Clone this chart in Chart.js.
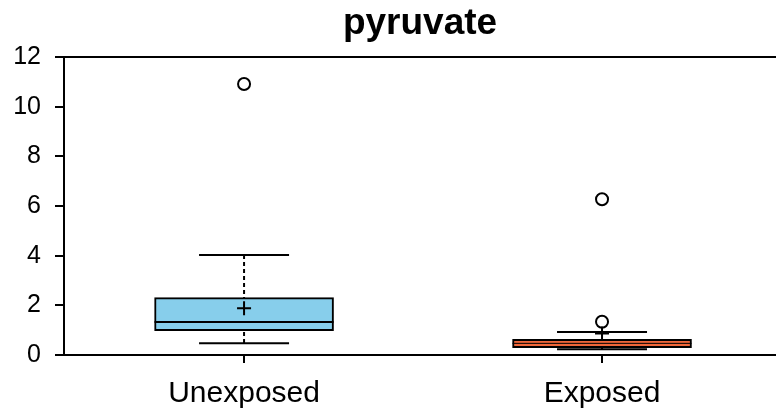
<!DOCTYPE html>
<html>
<head>
<meta charset="utf-8">
<script src="https://cdn.jsdelivr.net/npm/chart.js@4"></script>
<style>
  html, body { margin: 0; padding: 0; background: #fff; overflow: hidden; }
</style>
</head>
<body>
<canvas id="boxChart" width="776" height="419"></canvas>
<script>
// box plot values
const categories   = ['Unexposed', 'Exposed'];
const lowerWhisker = [0.47, 0.23];
const q1           = [0.98, 0.30];
const medians      = [1.33, 0.47];
const q3           = [2.31, 0.63];
const upperWhisker = [4.03, 0.93];
const means        = [1.88, 0.87];
const outliers     = [[10.91], [1.34, 6.27]];
const yTicks       = [0, 2, 4, 6, 8, 10, 12];
const boxColors    = ['#87CEEB', '#F0673A'];

const FONT = "'Liberation Sans', Arial, sans-serif";

// whiskers, caps, medians, means, frame top and title
const boxExtras = {
  id: 'boxExtras',
  beforeDatasetsDraw(chart) {
    const { ctx, scales: { x, y } } = chart;
    ctx.save();
    ctx.strokeStyle = '#000';
    ctx.lineWidth = 2;
    categories.forEach((_, i) => {
      const cx = x.getPixelForValue(i + 1);
      ctx.setLineDash([4, 3]);
      ctx.beginPath();
      ctx.moveTo(cx, y.getPixelForValue(upperWhisker[i]));
      ctx.lineTo(cx, y.getPixelForValue(lowerWhisker[i]));
      ctx.stroke();
      ctx.setLineDash([]);
      [upperWhisker[i], lowerWhisker[i]].forEach(v => {
        const py = y.getPixelForValue(v);
        ctx.beginPath();
        ctx.moveTo(cx - 45, py);
        ctx.lineTo(cx + 45, py);
        ctx.stroke();
      });
    });
    ctx.restore();
  },
  afterDatasetsDraw(chart) {
    const { ctx, scales: { x, y } } = chart;
    const bars = chart.getDatasetMeta(0).data;
    ctx.save();
    ctx.strokeStyle = '#000';
    categories.forEach((_, i) => {
      const bar = bars[i];
      const my = y.getPixelForValue(medians[i]);
      ctx.lineWidth = i === 0 ? 2 : 1;
      ctx.beginPath();
      ctx.moveTo(bar.x - bar.width / 2, my);
      ctx.lineTo(bar.x + bar.width / 2, my);
      ctx.stroke();
      ctx.lineWidth = 2;
      const cx = x.getPixelForValue(i + 1);
      const ay = y.getPixelForValue(means[i]);
      ctx.beginPath();
      ctx.moveTo(cx - 7, ay);
      ctx.lineTo(cx + 7, ay);
      ctx.moveTo(cx, ay - 7);
      ctx.lineTo(cx, ay + 7);
      ctx.stroke();
    });
    ctx.restore();
  },
  afterDraw(chart) {
    const { ctx, chartArea, scales: { y } } = chart;
    ctx.save();
    ctx.strokeStyle = '#000';
    ctx.lineWidth = 2;
    const top = y.getPixelForValue(12);
    ctx.beginPath();
    ctx.moveTo(chartArea.left, top);
    ctx.lineTo(chartArea.right, top);
    ctx.stroke();
    ctx.fillStyle = '#000';
    ctx.font = 'bold 37px ' + FONT;
    ctx.textAlign = 'center';
    ctx.textBaseline = 'alphabetic';
    ctx.fillText('pyruvate', (chartArea.left + chartArea.right) / 2, 34);
    ctx.restore();
  }
};

const outlierPoints = [];
outliers.forEach((vals, i) => vals.forEach(v => outlierPoints.push({ x: i + 1, y: v })));

new Chart(document.getElementById('boxChart').getContext('2d'), {
  type: 'bar',
  data: {
    datasets: [{
      label: 'box',
      data: categories.map((_, i) => ({ x: i + 1, y: [q1[i], q3[i]] })),
      backgroundColor: boxColors,
      borderColor: '#000',
      borderWidth: 2,
      borderSkipped: false,
      barThickness: 179,
      grouped: false
    }, {
      type: 'scatter',
      label: 'outliers',
      data: outlierPoints,
      pointStyle: 'circle',
      pointRadius: 6,
      pointBackgroundColor: '#fff',
      pointBorderColor: '#000',
      pointBorderWidth: 2
    }]
  },
  options: {
    responsive: false,
    animation: false,
    devicePixelRatio: 1,
    layout: { autoPadding: false, padding: { top: 57, right: 0, left: 0, bottom: 0 } },
    plugins: { legend: { display: false }, tooltip: { enabled: false }, title: { display: false } },
    scales: {
      x: {
        type: 'linear',
        min: 0.497,
        max: 2.486,
        offset: false,
        afterBuildTicks: s => { s.ticks = categories.map((_, i) => ({ value: i + 1 })); },
        afterFit: s => { s.height = 64; s.paddingLeft = 0; s.paddingRight = 0; },
        ticks: {
          callback: v => categories[Math.round(v) - 1],
          color: '#000',
          font: { family: FONT, size: 30 },
          padding: 13,
          maxRotation: 0
        },
        grid: { offset: false, drawOnChartArea: false, drawTicks: true, tickLength: 8, color: '#000', lineWidth: 2 },
        border: { display: true, color: '#000', width: 2 }
      },
      y: {
        min: 0,
        max: 12,
        afterBuildTicks: s => { s.ticks = yTicks.map(v => ({ value: v })); },
        afterFit: s => { s.width = 64; },
        ticks: {
          color: '#000',
          font: { family: FONT, size: 25 },
          padding: 14
        },
        grid: { drawOnChartArea: false, drawTicks: true, tickLength: 9, color: '#000', lineWidth: 2 },
        border: { display: true, color: '#000', width: 2 }
      }
    }
  },
  plugins: [boxExtras]
});
</script>
</body>
</html>
